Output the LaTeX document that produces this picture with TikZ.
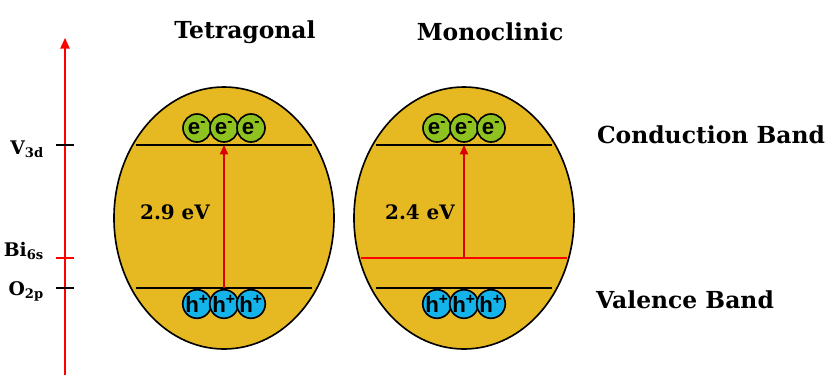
\documentclass[tikz,border=0pt]{standalone}
\usepackage{fontspec}
\setmainfont{DejaVu Serif}
\setsansfont{Liberation Sans}
\usepackage{xcolor}
\definecolor{gold}{RGB}{230,185,35}
\definecolor{egreen}{RGB}{141,194,31}
\definecolor{hblue}{RGB}{20,180,234}
\usetikzlibrary{arrows.meta, positioning, shapes.geometric}

\begin{document}
\begin{tikzpicture}[x=0.3mm, y=-0.3mm,
    grain/.style={ellipse, draw, line width=1.4pt, fill=gold, minimum width=66mm, minimum height=78.6mm, inner sep=0pt},
    carrier/.style={circle, draw, line width=1.4pt, minimum size=8.4mm, inner sep=0pt, font=\sffamily\bfseries\fontsize{19}{19}\selectfont},
    lbl/.style={font=\bfseries\fontsize{20}{20}\selectfont},
    gap/.style={font=\bfseries\fontsize{17}{17}\selectfont},
    lvl/.style={font=\bfseries\fontsize{16}{16}\selectfont, anchor=east},
    ]
    \useasboundingbox (0,0) rectangle (830,376);
    % energy axis
    \coordinate (axbot) at (65,375);
    \coordinate (axtop) at (65,38);
    \draw[red, line width=1pt, -{Triangle[length=9pt,width=8pt]}] (axbot) -- (axtop);
    \draw[line width=0.9pt] (56,145) -- (74,145);
    \draw[red, line width=0.9pt] (56,258) -- (74,258);
    \draw[line width=0.9pt] (56,288) -- (74,288);
    \node[lvl] (v3d) at (48,149) {V$_{\mathbf{3d}}$};
    \node[lvl] (bi6s) at (48,251) {Bi$_{\mathbf{6s}}$};
    \node[lvl] (o2p) at (48,291) {O$_{\mathbf{2p}}$};
    % two grains
    \node[grain] (tet) at (224,218) {};
    \node[grain] (mono) at (464,218) {};
    \node[lbl] (tettitle) at (245,32) {Tetragonal};
    \node[lbl] (monotitle) at (490,32) {Monoclinic};
    % band edges
    \foreach \g/\cx in {tet/224, mono/464} {
        \coordinate (\g cbl) at (\cx-88,145);
        \coordinate (\g cbr) at (\cx+88,145);
        \coordinate (\g vbl) at (\cx-88,288);
        \coordinate (\g vbr) at (\cx+88,288);
        \draw[line width=0.9pt] (\g cbl) -- (\g cbr);
        \draw[line width=0.9pt] (\g vbl) -- (\g vbr);
        \foreach \i/\dx in {1/-27, 2/0, 3/27} {
            \node[carrier, fill=egreen] (\g e\i) at (\cx+\dx,128) {e\textsuperscript{-}};
            \node[carrier, fill=hblue] (\g h\i) at (\cx+\dx,304) {h\textsuperscript{+}};
        }
    }
    % hybridised Bi 6s - O 2p valence band
    \coordinate (bil) at (361,258);
    \coordinate (bir) at (567,258);
    \draw[red, line width=1pt] (bil) -- (bir);
    % band gaps
    \coordinate (tetvb) at (224,288);
    \coordinate (tetcb) at (224,145);
    \coordinate (monovb) at (464,258);
    \coordinate (monocb) at (464,145);
    \draw[red!85!black, line width=1pt, -{Triangle[length=8pt,width=7pt]}] (tetvb) -- (tetcb);
    \draw[red!85!black, line width=1pt, -{Triangle[length=8pt,width=7pt]}] (monovb) -- (monocb);
    \node[gap] (tetgap) at (175,212) {2.9 eV};
    \node[gap] (monogap) at (420,212) {2.4 eV};
    % band names
    \node[lbl] (cb) at (711,135) {Conduction Band};
    \node[lbl] (vb) at (685,300) {Valence Band};
\end{tikzpicture}
\end{document}
